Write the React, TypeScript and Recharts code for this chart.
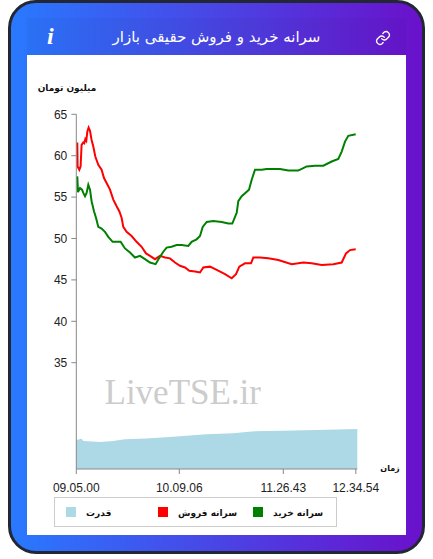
import React from "react";
import { Area, ComposedChart, Legend, Line, XAxis, YAxis } from "recharts";

// sample number along the session, the axis is by sample and not by clock
const buyIndex = [1, 1.7, 3.7, 5.7, 7, 8.7, 10.3, 12, 13.7, 15.3, 17.7, 19.7, 22, 25.3, 28.7, 32, 36.3, 40.3, 44.3, 48.7, 53.7, 58.7, 63.7, 68.7, 73.7, 79.3, 82.7, 87, 90.3, 95.3, 100.3, 105.3, 112, 115.3, 120.3, 123.7, 126.4, 130.4, 137, 145.4, 152, 156, 160.4, 162, 165.4, 172.7, 175.4, 178.7, 185.4, 190.4, 197, 203.7, 212, 222, 230.4, 238.7, 247, 255.4, 262, 265.4, 268.7, 272, 279.4];
const buyValues = [57.5, 55.6, 56.1, 55.9, 55.5, 55.1, 55.5, 56.5, 55.9, 54.5, 53.3, 52.5, 51.4, 51.2, 50.8, 50.2, 49.6, 49.6, 49.6, 48.8, 48.3, 47.7, 47.9, 47.5, 47.1, 46.9, 47.6, 48.4, 48.9, 49.0, 49.2, 49.2, 49.1, 49.6, 49.9, 50.3, 51.4, 52.0, 52.1, 52.0, 51.8, 51.8, 53.1, 54.5, 55.1, 55.9, 57.1, 58.3, 58.3, 58.4, 58.4, 58.4, 58.2, 58.2, 58.7, 58.8, 58.8, 59.3, 59.6, 60.5, 61.7, 62.4, 62.6];

const sellIndex = [1, 1.3, 3, 4.3, 5.3, 7, 8, 9, 10, 11, 12.3, 13.7, 15.3, 17, 19, 22, 25.3, 27.7, 30.3, 33.7, 37, 40.3, 43, 45.3, 47, 50.3, 55.3, 60.3, 65.3, 69.7, 73.7, 78.7, 83.7, 88.7, 93.7, 98.7, 103.7, 108.7, 113, 118.7, 123.7, 127, 133.7, 140.4, 148.7, 155.4, 159.7, 163, 168.7, 174.7, 177, 183.7, 192, 202, 215.4, 227, 235.4, 245.4, 257, 265.4, 269.7, 273.7, 279.4];
const sellValues = [61.6, 58.7, 58.3, 58.7, 61.3, 61.6, 61.5, 62.0, 61.8, 62.9, 63.4, 63.0, 61.9, 61.1, 59.9, 58.9, 58.3, 57.3, 56.7, 55.9, 54.7, 53.9, 53.3, 52.5, 51.4, 50.8, 50.3, 49.6, 49.0, 48.2, 47.9, 47.5, 47.9, 47.7, 47.6, 47.1, 46.7, 46.5, 46.1, 46.0, 45.9, 46.5, 46.6, 46.2, 45.7, 45.2, 45.7, 46.6, 47.0, 47.0, 47.7, 47.7, 47.6, 47.4, 46.9, 47.1, 47.0, 46.8, 46.9, 47.1, 48.2, 48.6, 48.7];

const powerIndex = [0, 5.3, 7, 23.7, 37, 48.7, 70.3, 97, 130.3, 157, 175.3, 207, 240.3, 281];
const powerValues = [8.2, 8.5, 7.9, 7.6, 7.9, 8.4, 8.6, 9.1, 9.8, 10.1, 10.6, 10.8, 11.0, 11.3];

const yTicks = [35, 40, 45, 50, 55, 60, 65];
const xTicks = [0, 103, 207, 279.5];
const xTickLabels = ["09.05.00", "10.09.06", "11.26.43", "12.34.54"];

const seriesNames = ["سرانه خرید", "سرانه فروش", "قدرت"];
const seriesColors = ["#008000", "#ff0000", "#add8e6"];

const buyData = buyIndex.map((t, i) => ({ t, value: buyValues[i] }));
const sellData = sellIndex.map((t, i) => ({ t, value: sellValues[i] }));
const powerData = powerIndex.map((t, i) => ({ t, power: powerValues[i] }));

const axisColor = "#888";
const arabicFont = "'DejaVu Sans', sans-serif";
const tickStyle = { fill: "#222", fontSize: 12, fontFamily: "'Liberation Sans', sans-serif" };

// left edge of each swatch inside the legend box
const legendSwatchLeft = [198, 103, 11];

function ChartLegend() {
  return (
    <div style={{ position: "relative", width: 281, height: 28, border: "1px solid #ccc" }}>
      {seriesNames.map((name, i) => (
        <React.Fragment key={name}>
          <span
            style={{
              position: "absolute",
              left: legendSwatchLeft[i],
              top: 9,
              width: 10,
              height: 10,
              background: seriesColors[i],
            }}
          />
          <span
            style={{
              position: "absolute",
              left: legendSwatchLeft[i] + 20,
              top: 8,
              lineHeight: "14px",
              whiteSpace: "nowrap",
              fontFamily: arabicFont,
              fontSize: 9,
              fontWeight: "bold",
              color: "#111",
            }}
          >
            {name}
          </span>
        </React.Fragment>
      ))}
    </div>
  );
}

export default function App() {
  return (
    <div
      style={{
        position: "absolute",
        left: 8,
        top: 0,
        width: 417,
        height: 554,
        boxSizing: "border-box",
        border: "3px solid #222733",
        borderRadius: 28,
        background: "linear-gradient(90deg, #2979ff, #6a11cb)",
      }}
    >
      <div
        style={{
          position: "absolute",
          left: 16,
          top: 15,
          width: 379,
          height: 37,
          display: "flex",
          alignItems: "center",
          justifyContent: "center",
          direction: "rtl",
          color: "#fff",
          background: "rgba(0,0,0,0.03)",
          fontFamily: arabicFont,
          fontSize: 15,
        }}
      >
        سرانه خرید و فروش حقیقی بازار
      </div>
      <div
        style={{
          position: "absolute",
          left: 36,
          top: 21,
          color: "#fff",
          fontFamily: "'Liberation Serif', serif",
          fontStyle: "italic",
          fontWeight: "bold",
          fontSize: 24,
          lineHeight: "24px",
        }}
      >
        i
      </div>
      <svg
        width={16}
        height={16}
        viewBox="0 0 24 24"
        fill="none"
        stroke="#fff"
        strokeWidth={2}
        strokeLinecap="round"
        strokeLinejoin="round"
        style={{ position: "absolute", left: 364, top: 27 }}
      >
        <path d="M10 13a5 5 0 0 0 7.5.5l3-3a5 5 0 0 0-7-7l-1.7 1.7" />
        <path d="M14 11a5 5 0 0 0-7.5-.5l-3 3a5 5 0 0 0 7 7l1.7-1.7" />
      </svg>
      <div style={{ position: "absolute", left: 16, top: 52, width: 379, height: 480, background: "#fff" }}>
        <ComposedChart width={379} height={480} margin={{ top: 59.3, right: 48.7, bottom: 0, left: 0 }}>
          <XAxis
            xAxisId="time"
            dataKey="t"
            type="number"
            domain={[0, 281]}
            ticks={xTicks}
            tickFormatter={(_, i) => xTickLabels[i]}
            interval={0}
            height={66}
            tickSize={5}
            tickMargin={9}
            stroke={axisColor}
            tick={tickStyle}
            allowDuplicatedCategory={false}
          />
          <YAxis
            yAxisId="price"
            width={49.3}
            domain={[22.16, 65]}
            ticks={yTicks}
            interval={0}
            tickSize={5}
            tickMargin={4}
            stroke={axisColor}
            tick={tickStyle}
            allowDataOverflow
          />
          <YAxis yAxisId="power" orientation="right" width={0} hide domain={[0, 100]} />
          <Area
            xAxisId="time"
            yAxisId="power"
            data={powerData}
            dataKey="power"
            name={seriesNames[2]}
            type="linear"
            stroke="none"
            fill={seriesColors[2]}
            fillOpacity={1}
            isAnimationActive={false}
          />
          <Line
            xAxisId="time"
            yAxisId="price"
            data={sellData}
            dataKey="value"
            name={seriesNames[1]}
            type="linear"
            stroke={seriesColors[1]}
            strokeWidth={2}
            dot={false}
            isAnimationActive={false}
          />
          <Line
            xAxisId="time"
            yAxisId="price"
            data={buyData}
            dataKey="value"
            name={seriesNames[0]}
            type="linear"
            stroke={seriesColors[0]}
            strokeWidth={2}
            dot={false}
            isAnimationActive={false}
          />
          <text x={77.5} y={349} fill="#ccc" fontFamily="'Liberation Serif', serif" fontSize={35}>
            LiveTSE.ir
          </text>
          <text x={40} y={36} textAnchor="middle" fill="#111" fontFamily={arabicFont} fontSize={9} fontWeight="bold">
            میلیون تومان
          </text>
          <text x={363} y={416} textAnchor="middle" fill="#111" fontFamily={arabicFont} fontSize={8} fontWeight="bold">
            زمان
          </text>
          <Legend
            content={<ChartLegend />}
            layout="horizontal"
            verticalAlign="middle"
            align="center"
            wrapperStyle={{ position: "absolute", left: 27, top: 442, width: 283, height: 30, bottom: "auto" }}
          />
        </ComposedChart>
      </div>
    </div>
  );
}
